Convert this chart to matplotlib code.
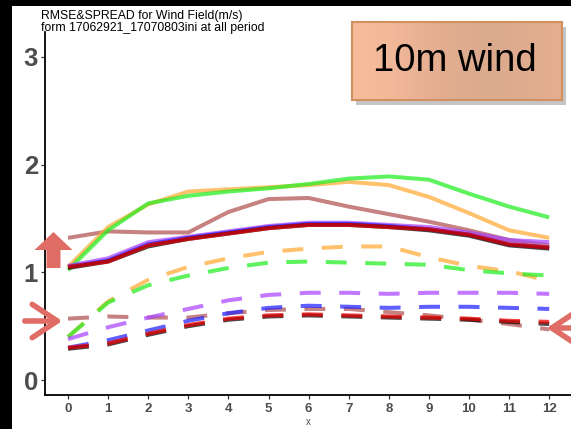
import numpy as np
import matplotlib
matplotlib.use('Agg')
import matplotlib.pyplot as plt
import matplotlib.patches as mpatches
from matplotlib.transforms import IdentityTransform

# forecast hour index
hours = list(range(13))

# RMSE (solid) per experiment
rmse_rose = [1.32, 1.38, 1.37, 1.37, 1.56, 1.68, 1.69, 1.61, 1.54, 1.47, 1.39, 1.30, 1.25]
rmse_orange = [1.05, 1.42, 1.63, 1.75, 1.77, 1.79, 1.81, 1.84, 1.81, 1.70, 1.55, 1.39, 1.32]
rmse_green = [1.02, 1.39, 1.64, 1.71, 1.75, 1.78, 1.82, 1.87, 1.89, 1.86, 1.73, 1.61, 1.51]
rmse_purple = [1.06, 1.13, 1.28, 1.33, 1.38, 1.43, 1.46, 1.46, 1.44, 1.42, 1.37, 1.30, 1.28]
rmse_blue = [1.05, 1.11, 1.26, 1.32, 1.37, 1.42, 1.45, 1.45, 1.43, 1.40, 1.35, 1.26, 1.23]
rmse_black = [1.04, 1.10, 1.24, 1.31, 1.36, 1.41, 1.44, 1.44, 1.42, 1.39, 1.34, 1.25, 1.22]
rmse_red = [1.05, 1.10, 1.25, 1.31, 1.36, 1.41, 1.44, 1.44, 1.42, 1.40, 1.35, 1.26, 1.23]

# SPREAD (dashed) per experiment
spr_rose = [0.57, 0.59, 0.58, 0.58, 0.62, 0.65, 0.66, 0.66, 0.63, 0.60, 0.56, 0.52, 0.47]
spr_orange = [0.40, 0.73, 0.93, 1.05, 1.13, 1.19, 1.22, 1.24, 1.24, 1.14, 1.06, 1.01, 0.92]
spr_green = [0.40, 0.72, 0.88, 0.97, 1.04, 1.09, 1.10, 1.09, 1.08, 1.07, 1.02, 0.99, 0.97]
spr_purple = [0.38, 0.49, 0.58, 0.66, 0.74, 0.79, 0.81, 0.81, 0.80, 0.81, 0.81, 0.81, 0.80]
spr_blue = [0.30, 0.37, 0.46, 0.55, 0.62, 0.67, 0.69, 0.68, 0.67, 0.68, 0.68, 0.67, 0.66]
spr_black = [0.29, 0.33, 0.42, 0.50, 0.56, 0.59, 0.60, 0.59, 0.58, 0.57, 0.56, 0.54, 0.52]
spr_red = [0.30, 0.34, 0.43, 0.51, 0.57, 0.60, 0.61, 0.60, 0.59, 0.58, 0.57, 0.55, 0.54]

xticks = [0, 1, 2, 3, 4, 5, 6, 7, 8, 9, 10, 11, 12]
yticks = [0, 1, 2, 3]

series = [
    (rmse_rose, spr_rose, '#b05050'),
    (rmse_orange, spr_orange, '#ffaa33'),
    (rmse_green, spr_green, '#22ee22'),
    (rmse_purple, spr_purple, '#aa44ff'),
    (rmse_blue, spr_blue, '#2222ff'),
    (rmse_black, spr_black, '#000000'),
    (rmse_red, spr_red, '#ee0000'),
]

W, H = 571, 429
fig = plt.figure(figsize=(W / 100, H / 100), dpi=100, facecolor='black')

# white page on black background
fig.add_artist(mpatches.Rectangle((12, 0), W - 12, H - 6, transform=IdentityTransform(),
                                  facecolor='white', edgecolor='none', zorder=0))

ax = fig.add_axes([45 / W, (H - 395) / H, 1 - 45 / W, (395 - 32) / H])
ax.set_facecolor('white')

for rm, sp, c in series:
    ax.plot(hours, rm, color=c, lw=2.9, alpha=0.72, solid_capstyle='butt')
for rm, sp, c in series:
    ax.plot(hours, sp, color=c, lw=2.9, alpha=0.72, linestyle=(0, (5.2, 4.6)),
            dash_capstyle='butt')

ax.set_xlim(-0.574, 12.544)
ax.set_ylim(-0.139, 3.231)
ax.set_xticks(xticks)
ax.set_yticks(yticks)
for s in ['top', 'right']:
    ax.spines[s].set_visible(False)
for s in ['left', 'bottom']:
    ax.spines[s].set_linewidth(1.3)
    ax.spines[s].set_color('black')

ax.tick_params(axis='y', length=3, width=0.9, color='#333333', pad=2,
               labelsize=18.5, labelcolor='#4d4d4d')
ax.tick_params(axis='x', length=3, width=0.9, color='#333333', pad=3,
               labelsize=9.5, labelcolor='#4d4d4d')
for lab in ax.get_yticklabels() + ax.get_xticklabels():
    lab.set_fontfamily('Liberation Sans')
    lab.set_fontweight('bold')

ax.set_xlabel('x', fontsize=7, color='#4d4d4d', family='Liberation Sans', labelpad=1)

fig.text(41 / W, 1 - 15.5 / H, 'RMSE&SPREAD for Wind Field(m/s)', fontsize=8.8,
         family='Liberation Sans', va='center', ha='left')
fig.text(41 / W, 1 - 28.5 / H, 'form 17062921_17070803ini at all period', fontsize=8.8,
         family='Liberation Sans', va='center', ha='left')

# label box with soft shadow and gradient fill
bx0, by0, bx1, by1 = 352, 22, 562, 100
fig.add_artist(mpatches.Rectangle((bx0 + 4, H - by1 - 5), bx1 - bx0, by1 - by0,
                                  transform=IdentityTransform(), facecolor='#808080',
                                  alpha=0.45, edgecolor='none', zorder=4))
bax = fig.add_axes([bx0 / W, (H - by1) / H, (bx1 - bx0) / W, (by1 - by0) / H], zorder=5)
cmap = matplotlib.colors.LinearSegmentedColormap.from_list(
    'peach', ['#f6bc9c', '#e4ae90', '#d9a98c'])
bax.imshow(np.array([[0.0, 0.3, 0.7, 1.0, 0.5]]), aspect='auto', cmap=cmap,
           interpolation='bicubic', extent=(0, 1, 0, 1))
bax.set_xlim(0, 1)
bax.set_ylim(0, 1)
bax.set_xticks([])
bax.set_yticks([])
for s in bax.spines.values():
    s.set_color('#d09060')
    s.set_linewidth(1.5)
bax.text(0.49, 0.5, '10m wind', fontsize=27.5, family='Liberation Sans',
         ha='center', va='center', color='black')

arrow_c = '#e06d65'
# up arrow
fig.add_artist(mpatches.FancyArrow(53.5, H - 268, 0, 36, width=14, head_width=38,
                                   head_length=18, length_includes_head=True,
                                   transform=IdentityTransform(), color=arrow_c,
                                   lw=0, zorder=6))
# side arrows
for x0, x1, y in [(22, 65, 321), (590, 544, 328)]:
    fig.add_artist(mpatches.FancyArrowPatch((x0, H - y), (x1, H - y),
                                            transform=IdentityTransform(),
                                            arrowstyle='->,head_length=6,head_width=4',
                                            mutation_scale=3, color=arrow_c, lw=4,
                                            capstyle='round', joinstyle='round', zorder=6))

fig.savefig('out.png', dpi=100, facecolor=fig.get_facecolor())
